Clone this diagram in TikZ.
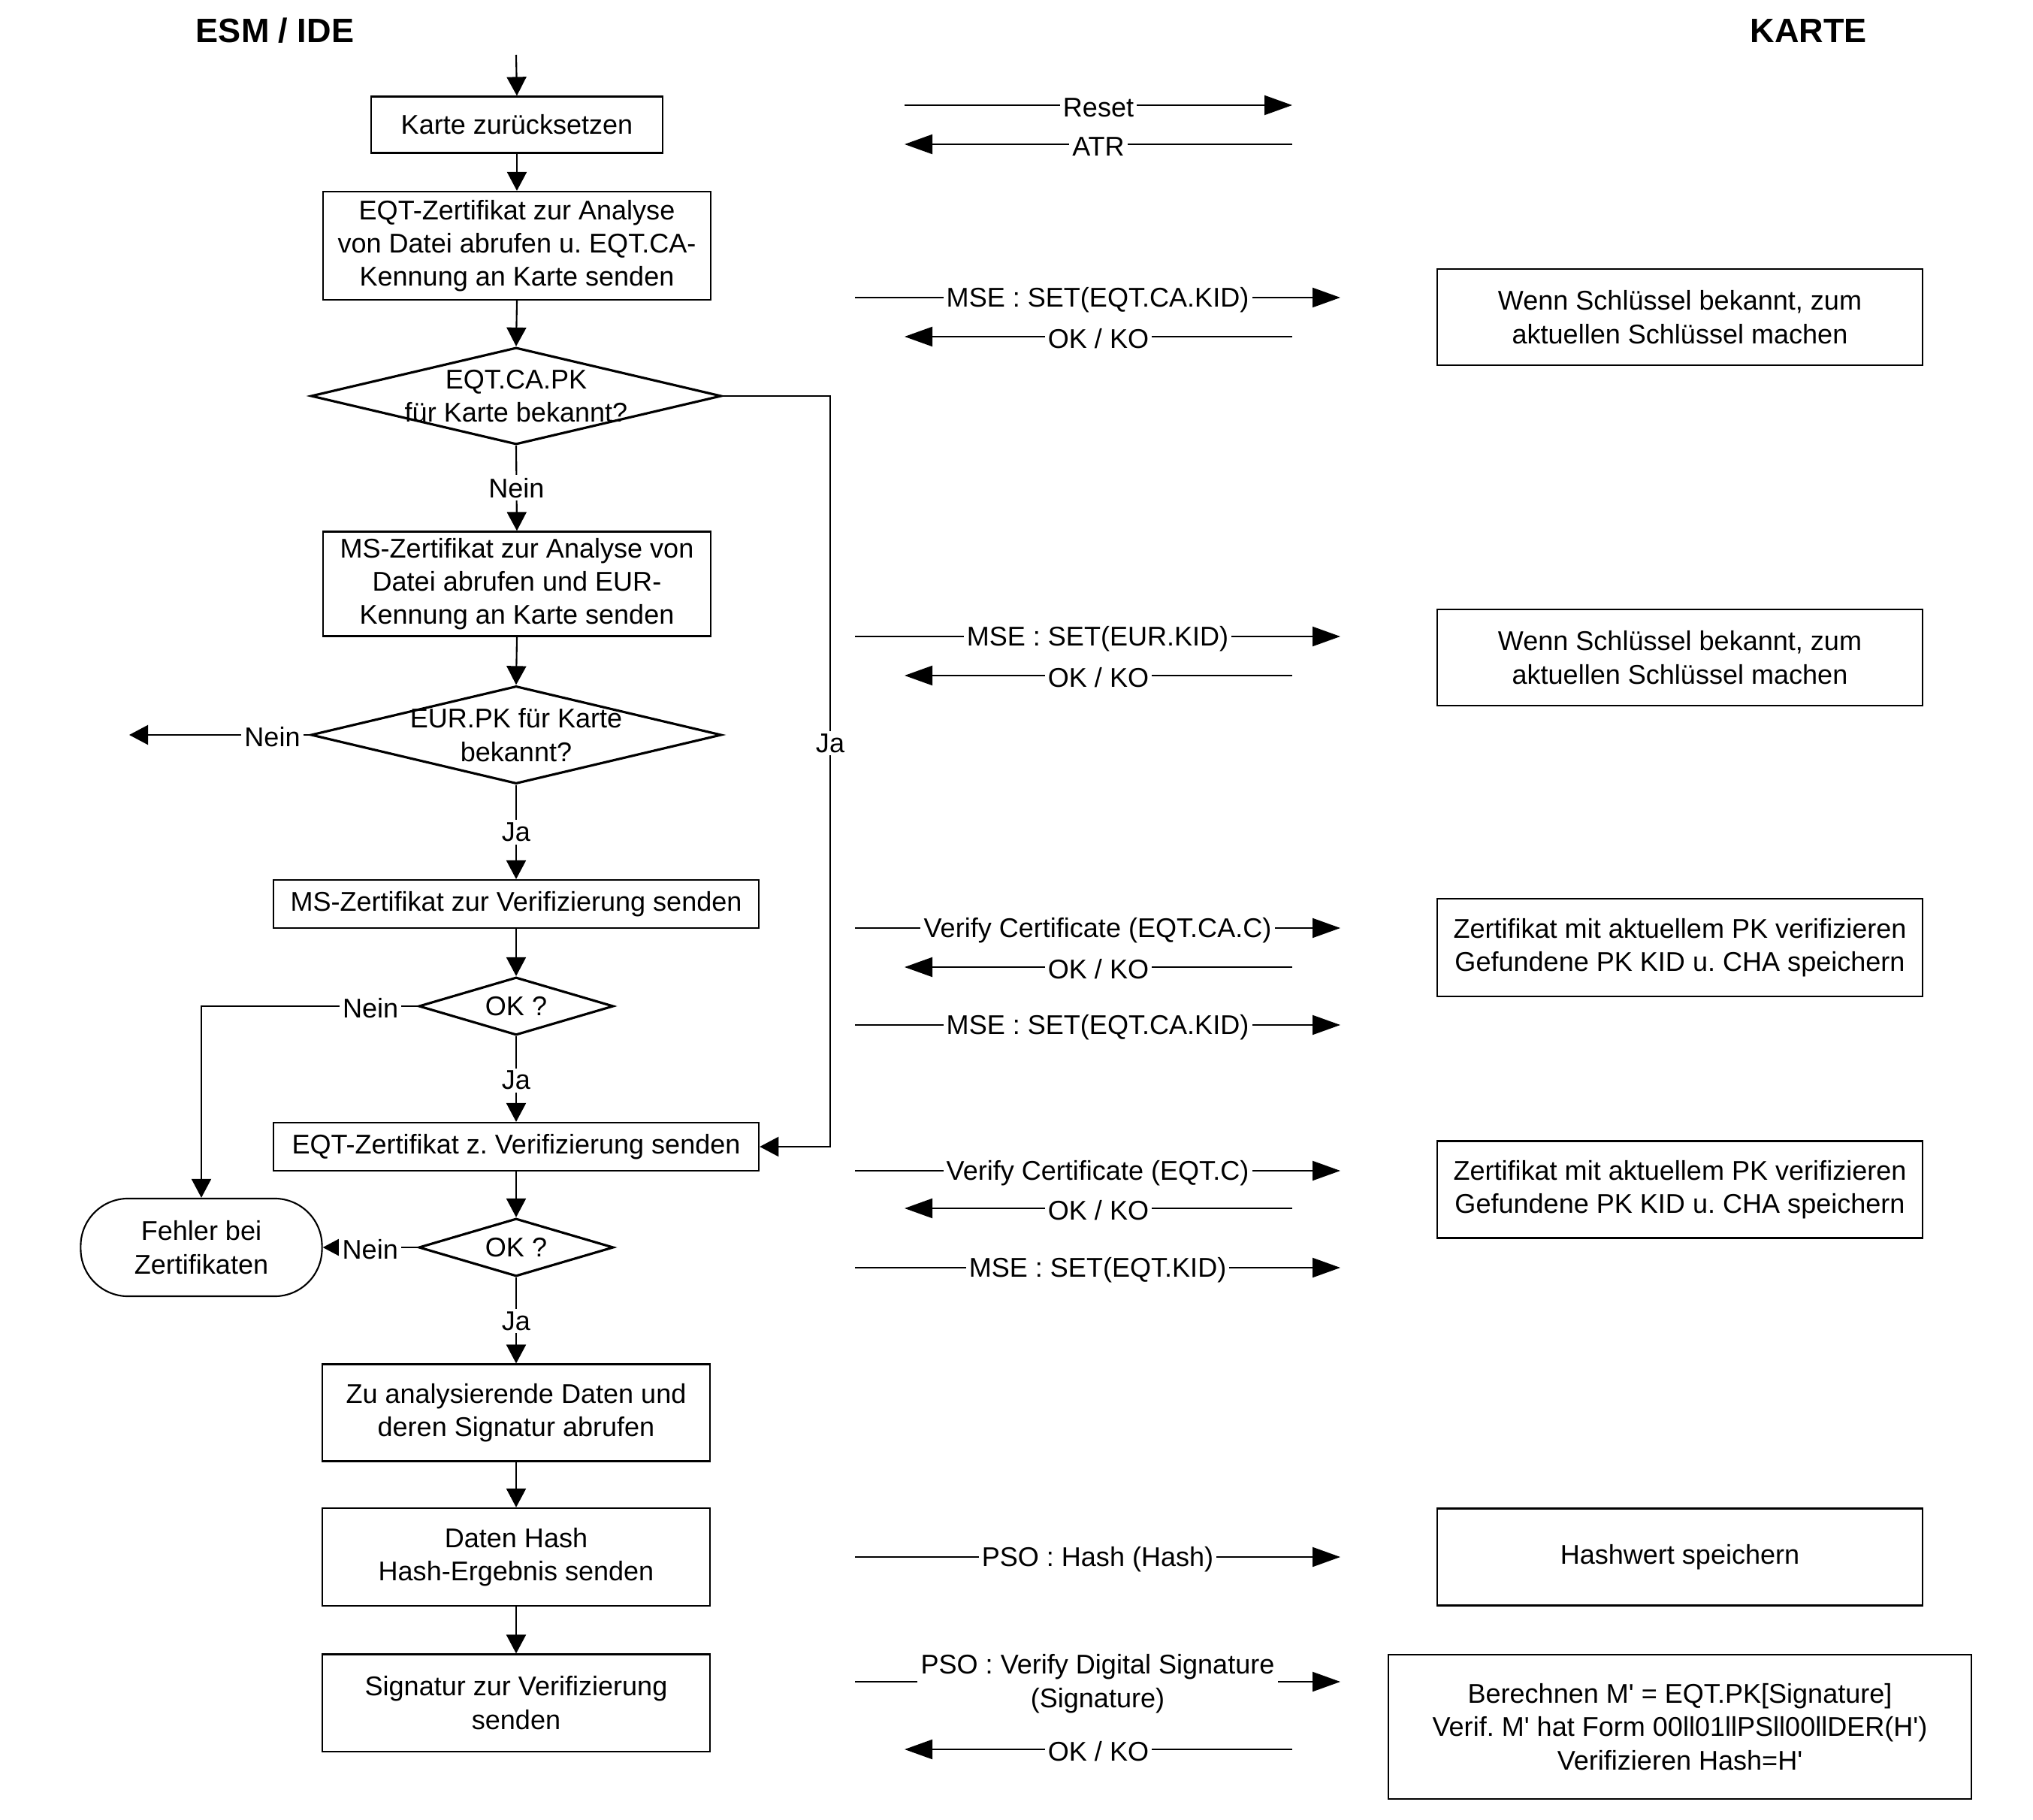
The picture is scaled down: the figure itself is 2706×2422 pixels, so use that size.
\documentclass[tikz,border=0pt]{standalone}
\usepackage{fontspec}
\setmainfont{Liberation Sans}[Ligatures=TeXOff]
\usetikzlibrary{arrows.meta,shapes.geometric}
\frenchspacing
\begin{document}
\begin{tikzpicture}[x=0.01cm,y=-0.01cm,
  every node/.style={font=\fontsize{10.25}{12.6}\selectfont\frenchspacing},
  box/.style={draw, line width=0.6pt, align=center, inner sep=0pt},
  dia/.style={draw, diamond, line width=0.9pt, inner sep=0pt},
  lbl/.style={fill=white, inner xsep=1.2pt, inner ysep=1pt, yshift=-0.8pt},
  flow/.style={line width=0.6pt, -{Triangle[length=0.25cm,width=0.26cm]}},
  msg/.style={line width=0.6pt, -{Triangle[length=0.37cm,width=0.26cm]}},
  title/.style={font=\fontsize{12.8}{15}\selectfont\bfseries}
]
\fill[white] (0,0) rectangle (2706,2422);
\useasboundingbox (0,0) rectangle (2706,2422);

% titles
\node[title] (t1) at (366,41) {ESM / IDE};
\node[title] (t2) at (2407,41) {KARTE};

% left column
\node[box, minimum width=3.87cm, minimum height=0.75cm] (b1) at (688,166) {Karte zurücksetzen};
\node[box, minimum width=5.16cm, minimum height=1.44cm] (b2) at (688,327) {EQT-Zertifikat zur Analyse\\von Datei abrufen u. EQT.CA-\\Kennung an Karte senden};
\node[dia, minimum width=5.46cm, minimum height=1.29cm] (d1) at (687,527) {};
\node[align=center] (d1t) at (d1) {EQT.CA.PK\\für Karte bekannt?};
\node[box, minimum width=5.16cm, minimum height=1.39cm] (b3) at (688,777) {MS-Zertifikat zur Analyse von\\Datei abrufen und EUR-\\Kennung an Karte senden};
\node[dia, minimum width=5.46cm, minimum height=1.30cm] (d2) at (687,978) {};
\node[align=center] (d2t) at (d2) {EUR.PK für Karte\\bekannt?};
\node[box, minimum width=6.46cm, minimum height=0.64cm] (b4) at (687,1203) {MS-Zertifikat zur Verifizierung senden};
\node[dia, minimum width=2.59cm, minimum height=0.77cm] (ok1) at (687,1339) {};
\node (ok1t) at (ok1) {OK ?};
\node[box, minimum width=6.46cm, minimum height=0.64cm] (b5) at (687,1526) {EQT-Zertifikat z. Verifizierung senden};
\node[dia, minimum width=2.59cm, minimum height=0.77cm] (ok2) at (687,1660) {};
\node (ok2t) at (ok2) {OK ?};
\node[box, rounded corners=0.63cm, minimum width=3.21cm, minimum height=1.30cm] (err) at (268,1660) {Fehler bei\\Zertifikaten};
\node[box, minimum width=5.16cm, minimum height=1.29cm] (b6) at (687,1880) {Zu analysierende Daten und\\deren Signatur abrufen};
\node[box, minimum width=5.16cm, minimum height=1.30cm] (b7) at (687,2072) {Daten Hash\\Hash-Ergebnis senden};
\node[box, minimum width=5.16cm, minimum height=1.29cm] (b8) at (687,2266) {Signatur zur Verifizierung\\senden};

% right column
\node[box, minimum width=6.45cm, minimum height=1.28cm] (k1) at (2236,422) {Wenn Schlüssel bekannt, zum\\aktuellen Schlüssel machen};
\node[box, minimum width=6.45cm, minimum height=1.28cm] (k2) at (2236,875) {Wenn Schlüssel bekannt, zum\\aktuellen Schlüssel machen};
\node[box, minimum width=6.45cm, minimum height=1.30cm] (k3) at (2236,1261) {Zertifikat mit aktuellem PK verifizieren\\Gefundene PK KID u. CHA speichern};
\node[box, minimum width=6.45cm, minimum height=1.29cm] (k4) at (2236,1583) {Zertifikat mit aktuellem PK verifizieren\\Gefundene PK KID u. CHA speichern};
\node[box, minimum width=6.45cm, minimum height=1.29cm] (k5) at (2236,2072) {Hashwert speichern};
\node[box, minimum width=7.75cm, minimum height=1.92cm] (k6) at (2236,2298) {Berechnen M' = EQT.PK[Signature]\\Verif. M' hat Form 00ll01llPSll00llDER(H')\\Verifizieren Hash=H'};

% flow connectors
\coordinate (start) at (687,73);
\draw[flow] (start) -- (b1.north);
\draw[flow] (b1.south) -- (b2.north);
\draw[flow] (b2.south) -- (d1.north);
\draw[flow] (d1.south) -- node[lbl,pos=0.47]{Nein} (b3.north);
\draw[flow] (b3.south) -- (d2.north);
\coordinate (nein1) at (172,978);
\draw[flow] (d2.west) -- node[lbl,pos=0.207]{Nein} (nein1);
\draw[flow] (d2.south) -- node[lbl,pos=0.48]{Ja} (b4.north);
\draw[flow] (b4.south) -- (ok1.north);
\draw[flow] (ok1.west) -- node[lbl,pos=0.218]{Nein} (err.north |- ok1.west) -- (err.north);
\draw[flow] (ok1.south) -- node[lbl,pos=0.49]{Ja} (b5.north);
\coordinate (jx) at (1105,527);
\draw[flow] (d1.east) -- (jx) -- node[lbl,pos=0.46]{Ja} (jx |- b5.east) -- (b5.east);
\draw[flow] (b5.south) -- (ok2.north);
\draw[flow] (ok2.west) -- node[lbl]{Nein} (err.east);
\draw[flow] (ok2.south) -- node[lbl,pos=0.48]{Ja} (b6.north);
\draw[flow] (b6.south) -- (b7.north);
\draw[flow] (b7.south) -- (b8.north);

% messages
\coordinate (m1a) at (1204,140); \coordinate (m1b) at (1720,140);
\draw[msg] (m1a) -- node[lbl]{Reset} (m1b);
\coordinate (m2a) at (1720,192); \coordinate (m2b) at (1204,192);
\draw[msg] (m2a) -- node[lbl]{ATR} (m2b);
\coordinate (m3a) at (1138,396); \coordinate (m3b) at (1784,396);
\draw[msg] (m3a) -- node[lbl]{MSE : SET(EQT.CA.KID)} (m3b);
\coordinate (m4a) at (1720,448); \coordinate (m4b) at (1204,448);
\draw[msg] (m4a) -- node[lbl]{OK / KO} (m4b);
\coordinate (m5a) at (1138,847); \coordinate (m5b) at (1784,847);
\draw[msg] (m5a) -- node[lbl]{MSE : SET(EUR.KID)} (m5b);
\coordinate (m6a) at (1720,899); \coordinate (m6b) at (1204,899);
\draw[msg] (m6a) -- node[lbl]{OK / KO} (m6b);
\coordinate (m7a) at (1138,1235); \coordinate (m7b) at (1784,1235);
\draw[msg] (m7a) -- node[lbl]{Verify Certificate (EQT.CA.C)} (m7b);
\coordinate (m8a) at (1720,1287); \coordinate (m8b) at (1204,1287);
\draw[msg] (m8a) -- node[lbl]{OK / KO} (m8b);
\coordinate (m9a) at (1138,1364); \coordinate (m9b) at (1784,1364);
\draw[msg] (m9a) -- node[lbl]{MSE : SET(EQT.CA.KID)} (m9b);
\coordinate (m10a) at (1138,1558); \coordinate (m10b) at (1784,1558);
\draw[msg] (m10a) -- node[lbl]{Verify Certificate (EQT.C)} (m10b);
\coordinate (m11a) at (1720,1608); \coordinate (m11b) at (1204,1608);
\draw[msg] (m11a) -- node[lbl]{OK / KO} (m11b);
\coordinate (m12a) at (1138,1687); \coordinate (m12b) at (1784,1687);
\draw[msg] (m12a) -- node[lbl]{MSE : SET(EQT.KID)} (m12b);
\coordinate (m13a) at (1138,2072); \coordinate (m13b) at (1784,2072);
\draw[msg] (m13a) -- node[lbl]{PSO : Hash (Hash)} (m13b);
\coordinate (m14a) at (1138,2238); \coordinate (m14b) at (1784,2238);
\draw[msg] (m14a) -- node[lbl,align=center]{PSO : Verify Digital Signature\\(Signature)} (m14b);
\coordinate (m15a) at (1720,2328); \coordinate (m15b) at (1204,2328);
\draw[msg] (m15a) -- node[lbl]{OK / KO} (m15b);
\end{tikzpicture}
\end{document}
